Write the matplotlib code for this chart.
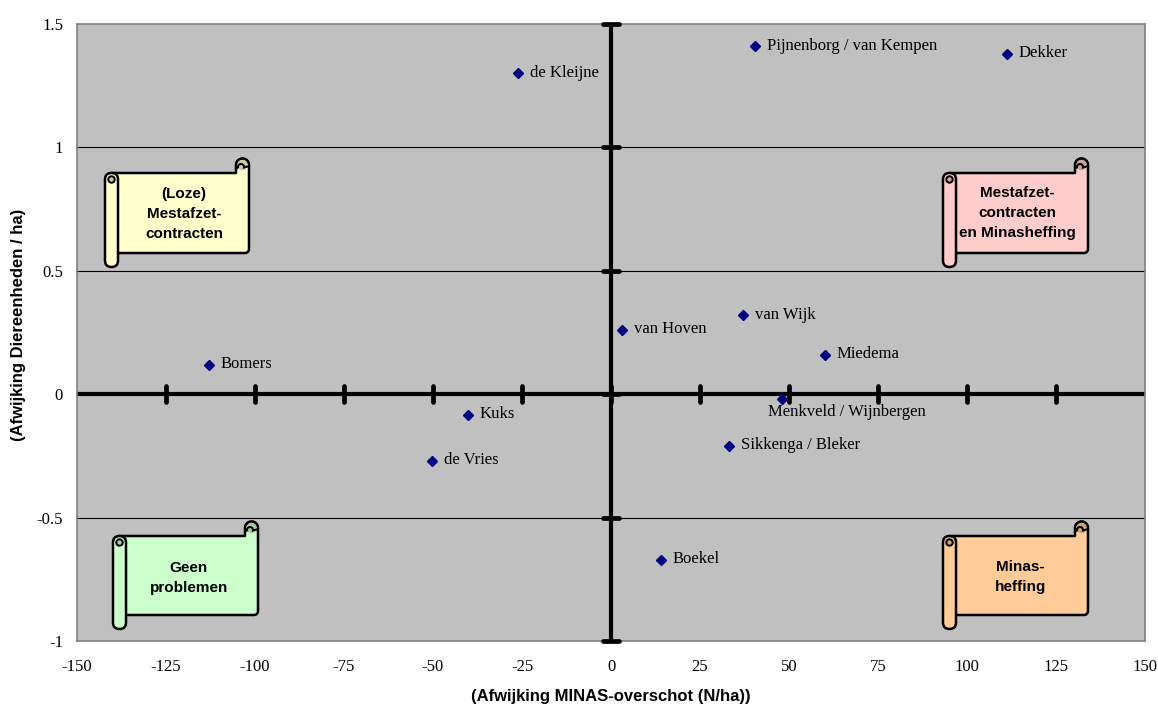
import numpy as np
import matplotlib
matplotlib.use("Agg")
import matplotlib.pyplot as plt
from matplotlib.patches import Polygon, Circle, FancyBboxPatch
from matplotlib.markers import MarkerStyle

# Farm results: deviation of MINAS surplus (N/ha) vs deviation in livestock units per ha
names = ["de Kleijne", "Pijnenborg / van Kempen", "Dekker", "van Wijk", "van Hoven",
         "Miedema", "Bomers", "Menkveld / Wijnbergen", "Kuks", "de Vries",
         "Sikkenga / Bleker", "Boekel"]
minas_dev = [-26.1, 40.4, 111.2, 37.1, 3.1, 60.1, -112.9, 48.0, -40.2, -50.3, 33.1, 14.0]
de_dev = [1.30, 1.41, 1.38, 0.32, 0.26, 0.16, 0.12, -0.02, -0.085, -0.27, -0.21, -0.67]

x_ticks = [-150, -125, -100, -75, -50, -25, 0, 25, 50, 75, 100, 125, 150]
y_ticks = [-1, -0.5, 0, 0.5, 1, 1.5]
y_tick_labels = ["-1", "-0.5", "0", "0.5", "1", "1.5"]

W, H = 1158, 706
fig = plt.figure(figsize=(W / 100, H / 100), dpi=100)
fig.patch.set_facecolor("white")

ax = fig.add_axes([77 / W, (H - 641) / H, 1068 / W, 617 / H])
ax.set_facecolor("#C0C0C0")
ax.set_xlim(-150, 150)
ax.set_ylim(-1, 1.5)
for s in ax.spines.values():
    s.set_color("#808080")
    s.set_linewidth(1.2)

serif = ["Liberation Serif", "DejaVu Serif"]
ax.set_xticks(x_ticks)
ax.set_xticklabels([str(v) for v in x_ticks], fontfamily=serif, fontsize=12)
ax.set_yticks(y_ticks)
ax.set_yticklabels(y_tick_labels, fontfamily=serif, fontsize=12)
ax.tick_params(axis="both", length=0)
ax.tick_params(axis="x", pad=13)
ax.tick_params(axis="y", pad=10)

# horizontal gridlines
for yv in y_ticks[1:-1]:
    if yv != 0:
        ax.axhline(yv, color="black", lw=0.8, zorder=1)

# thick crossing axes through the origin with tick marks
ax.axhline(0, color="black", lw=3, zorder=2, solid_capstyle="butt")
ax.axvline(0, color="black", lw=3, zorder=2, solid_capstyle="butt")
vtick = MarkerStyle("|", capstyle="round")
htick = MarkerStyle("_", capstyle="round")
ax.plot(x_ticks[1:-1], [0] * len(x_ticks[1:-1]), ls="none", marker=vtick,
        markersize=11, mew=3.4, color="black", zorder=3)
ax.plot([0] * len(y_ticks), y_ticks, ls="none", marker=htick,
        markersize=11, mew=3.4, color="black", zorder=3, clip_on=False)

# data points and their labels
ax.plot(minas_dev, de_dev, ls="none", marker="D", markersize=5, color="#000080", zorder=4)
for name, xv, yv in zip(names, minas_dev, de_dev):
    if name.startswith("Menkveld"):
        ax.annotate(name, (xv, yv), xytext=(-10, -9), textcoords="offset points",
                    ha="left", va="center", fontfamily=serif, fontsize=12, zorder=5)
    else:
        ax.annotate(name, (xv, yv), xytext=(8.5, 0.5), textcoords="offset points",
                    ha="left", va="center", fontfamily=serif, fontsize=12, zorder=5)

sans = ["Liberation Sans", "DejaVu Sans"]
fig.text(611 / W, 1 - 697 / H, "(Afwijking MINAS-overschot (N/ha))", ha="center", va="center",
         fontfamily=sans, fontweight="bold", fontsize=12)
fig.text(19 / W, 1 - 325 / H, "(Afwijking Diereenheden / ha)", ha="center", va="center",
         rotation=90, fontfamily=sans, fontweight="bold", fontsize=12)

# overlay in pixel coordinates for the scroll-shaped quadrant labels
ov = fig.add_axes([0, 0, 1, 1], zorder=10)
ov.set_xlim(0, W)
ov.set_ylim(H, 0)
ov.axis("off")


def shade(hexcol, f=0.8):
    c = np.array(matplotlib.colors.to_rgb(hexcol))
    return tuple(c * f)


def arc(cx, cy, r, a0, a1, n=30):
    t = np.radians(np.linspace(a0, a1, n))
    return np.column_stack([cx + r * np.cos(t), cy - r * np.sin(t)])


def scroll(x0, yt, yb, xr, color, text, tx, ty):
    lw = 1.8
    rr = 6.5
    # body with the top-right roll
    pts = [(x0 + rr, yt), (xr - 2 * rr, yt)]
    pts += list(arc(xr - rr, yt - 8, rr, 180, 0))
    pts += [(xr, yb - 4)]
    pts += list(arc(xr - 4, yb - 4, 4, 0, -90, 10))
    pts += [(x0 + rr, yb)]
    ov.add_patch(Polygon(pts, closed=True, facecolor=color, edgecolor="black",
                         lw=lw, joinstyle="round"))
    # inner curl of the top-right roll
    ov.add_patch(Circle((xr - rr, yt - 8), rr - 1.2, facecolor=shade(color), edgecolor="none"))
    ov.add_patch(Polygon(list(arc(xr - rr, yt - 8, rr, 200, -10)) + list(arc(xr - rr - 1.5, yt - 6, 3, -10, 200)),
                         closed=True, facecolor="none", edgecolor="black", lw=lw * 0.8))
    # left roll
    ov.add_patch(FancyBboxPatch((x0 + rr - 0.01, yt + rr), 0.02, (yb + 14) - (yt + rr) - rr,
                                boxstyle=f"round,pad={rr},rounding_size={rr}",
                                facecolor=color, edgecolor="black", lw=lw))
    ov.add_patch(Circle((x0 + rr, yt + rr), 3.2, facecolor=shade(color), edgecolor="black", lw=lw * 0.8))
    ov.text(tx, ty, text, ha="center", va="center", fontfamily=sans, fontweight="bold",
            fontsize=11, linespacing=1.55)


scroll(105, 173, 253, 249, "#FFFFCC", "(Loze)\nMestafzet-\ncontracten", 184, 214)
scroll(943, 173, 253, 1088, "#FFCCCC", "Mestafzet-\ncontracten\nen Minasheffing", 1017, 213)
scroll(113, 536, 615, 258, "#CCFFCC", "Geen\nproblemen", 189, 578)
scroll(943, 536, 615, 1088, "#FFCC99", "Minas-\nheffing", 1020, 577)

fig.savefig("out.png", dpi=100)
